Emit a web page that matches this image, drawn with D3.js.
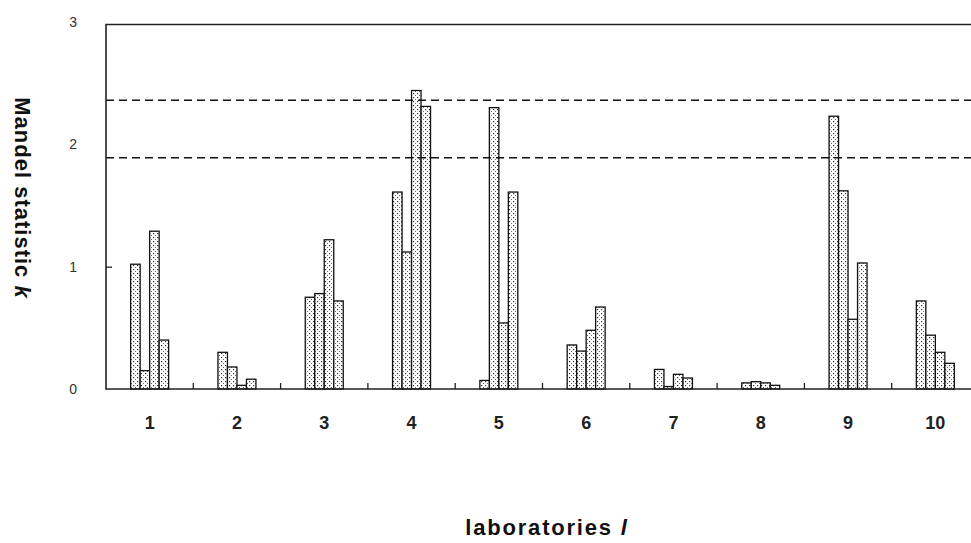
<!DOCTYPE html>
<html>
<head>
<meta charset="utf-8">
<script src="https://cdn.jsdelivr.net/npm/d3@7"></script>
<style>
  body { margin: 0; background: #fff; }
  svg { display: block; font-family: Arial, "Liberation Sans", sans-serif; }
</style>
</head>
<body>
<div id="graph-container"></div>
<script>
const W = 971, H = 543
const margin = ({top: 24, right: 0, bottom: 154, left: 106})

// laboratories and Mandel k values (4 levels per lab)
const labs = ["1", "2", "3", "4", "5", "6", "7", "8", "9", "10"]
const level1 = [1.02, 0.30, 0.75, 1.61, 0.07, 0.36, 0.16, 0.05, 2.23, 0.72]
const level2 = [0.15, 0.18, 0.78, 1.12, 2.30, 0.31, 0.02, 0.06, 1.62, 0.44]
const level3 = [1.29, 0.03, 1.22, 2.44, 0.54, 0.48, 0.12, 0.05, 0.57, 0.30]
const level4 = [0.40, 0.08, 0.72, 2.31, 1.61, 0.67, 0.09, 0.03, 1.03, 0.21]
const critical = [2.36, 1.89]
const yTicks = [0, 1, 2, 3]

const levels = [level1, level2, level3, level4]

const svg = d3.create("svg")
    .attr("width", W)
    .attr("height", H)
    .attr("viewBox", [0, 0, W, H])

d3.select("#graph-container").append(() => svg.node())

const defs = svg.append("defs")
const pat = defs.append("pattern")
    .attr("id", "dots")
    .attr("patternUnits", "userSpaceOnUse")
    .attr("width", 4)
    .attr("height", 4)
pat.append("rect").attr("width", 4).attr("height", 4).attr("fill", "#fff")
pat.append("rect").attr("x", 1).attr("y", 1).attr("width", 1.2).attr("height", 1.2).attr("fill", "#333")
pat.append("rect").attr("x", 3).attr("y", 3).attr("width", 1.2).attr("height", 1.2).attr("fill", "#666")

const x = d3.scaleBand()
    .domain(labs)
    .range([margin.left, margin.left + 873])
    .paddingInner(0.565)
    .paddingOuter(0.2825)

const xs = d3.scaleBand()
    .domain(d3.range(levels.length))
    .range([0, x.bandwidth()])

const y = d3.scaleLinear()
    .domain([0, 3])
    .range([389, 22])

const data = []
labs.forEach((lab, i) => {
  levels.forEach((lv, j) => data.push({lab, j, k: lv[i]}))
})

// bars: dotted fill, outlined
const bars = svg.append("g").attr("class", "bars")
bars.selectAll("rect")
  .data(data)
  .join("rect")
    .attr("x", d => x(d.lab) + xs(d.j))
    .attr("y", d => y(d.k))
    .attr("width", xs.bandwidth())
    .attr("height", d => y(0) - y(d.k))
    .attr("fill", "url(#dots)")
    .attr("stroke", "#111")
    .attr("stroke-width", 1.3)

// critical value lines
svg.append("g").selectAll("line")
  .data(critical)
  .join("line")
    .attr("x1", margin.left)
    .attr("x2", W)
    .attr("y1", d => y(d))
    .attr("y2", d => y(d))
    .attr("stroke", "#111")
    .attr("stroke-width", 1.4)
    .attr("stroke-dasharray", "8,5")

// frame: left axis, top line, baseline
const yTop = y(2.98)
svg.append("path")
    .attr("d", `M${W},${yTop}H${margin.left}V${y(0)}H${W}`)
    .attr("fill", "none")
    .attr("stroke", "#222")
    .attr("stroke-width", 1.6)

// group separator ticks on baseline
svg.append("g").selectAll("line")
  .data(labs.slice(1))
  .join("line")
    .attr("x1", d => x(d) - x.step() * x.paddingInner() / 2)
    .attr("x2", d => x(d) - x.step() * x.paddingInner() / 2)
    .attr("y1", y(0))
    .attr("y2", y(0) - 6)
    .attr("stroke", "#222")
    .attr("stroke-width", 1.3)

// y axis labels
const yAxis = svg.append("g")
    .attr("transform", `translate(${margin.left},0)`)
    .call(d3.axisLeft(y).tickValues(yTicks).tickSize(0).tickPadding(29).tickFormat(d3.format("d")))
yAxis.select(".domain").remove()
yAxis.selectAll("text")
    .attr("font-size", "14px")
    .attr("fill", "#333")
    .attr("font-family", "Arial, 'Liberation Sans', sans-serif")
yAxis.selectAll(".tick")
  .filter(d => d === 1)
  .append("line")
    .attr("x2", 6)
    .attr("stroke", "#222")
    .attr("stroke-width", 1.3)

// x axis labels
const xAxis = svg.append("g")
    .attr("transform", `translate(0,${y(0)})`)
    .call(d3.axisBottom(x).tickSize(0).tickPadding(27))
xAxis.select(".domain").remove()
xAxis.selectAll("text")
    .attr("font-size", "18px")
    .attr("font-weight", "bold")
    .attr("fill", "#222")
    .attr("font-family", "Arial, 'Liberation Sans', sans-serif")

// axis titles
const xt = svg.append("text")
    .attr("x", 547)
    .attr("y", 535)
    .attr("text-anchor", "middle")
    .attr("font-size", "22px")
    .attr("font-weight", "bold")
    .attr("letter-spacing", "1.8px")
    .attr("fill", "#111")
xt.append("tspan").text("laboratories ")
xt.append("tspan").attr("font-style", "italic").text("l")

const yt = svg.append("text")
    .attr("transform", "translate(15,198) rotate(90)")
    .attr("text-anchor", "middle")
    .attr("font-size", "22px")
    .attr("font-weight", "bold")
    .attr("letter-spacing", "1px")
    .attr("fill", "#111")
yt.append("tspan").text("Mandel statistic ")
yt.append("tspan").attr("font-style", "italic").text("k")
</script>
</body>
</html>
